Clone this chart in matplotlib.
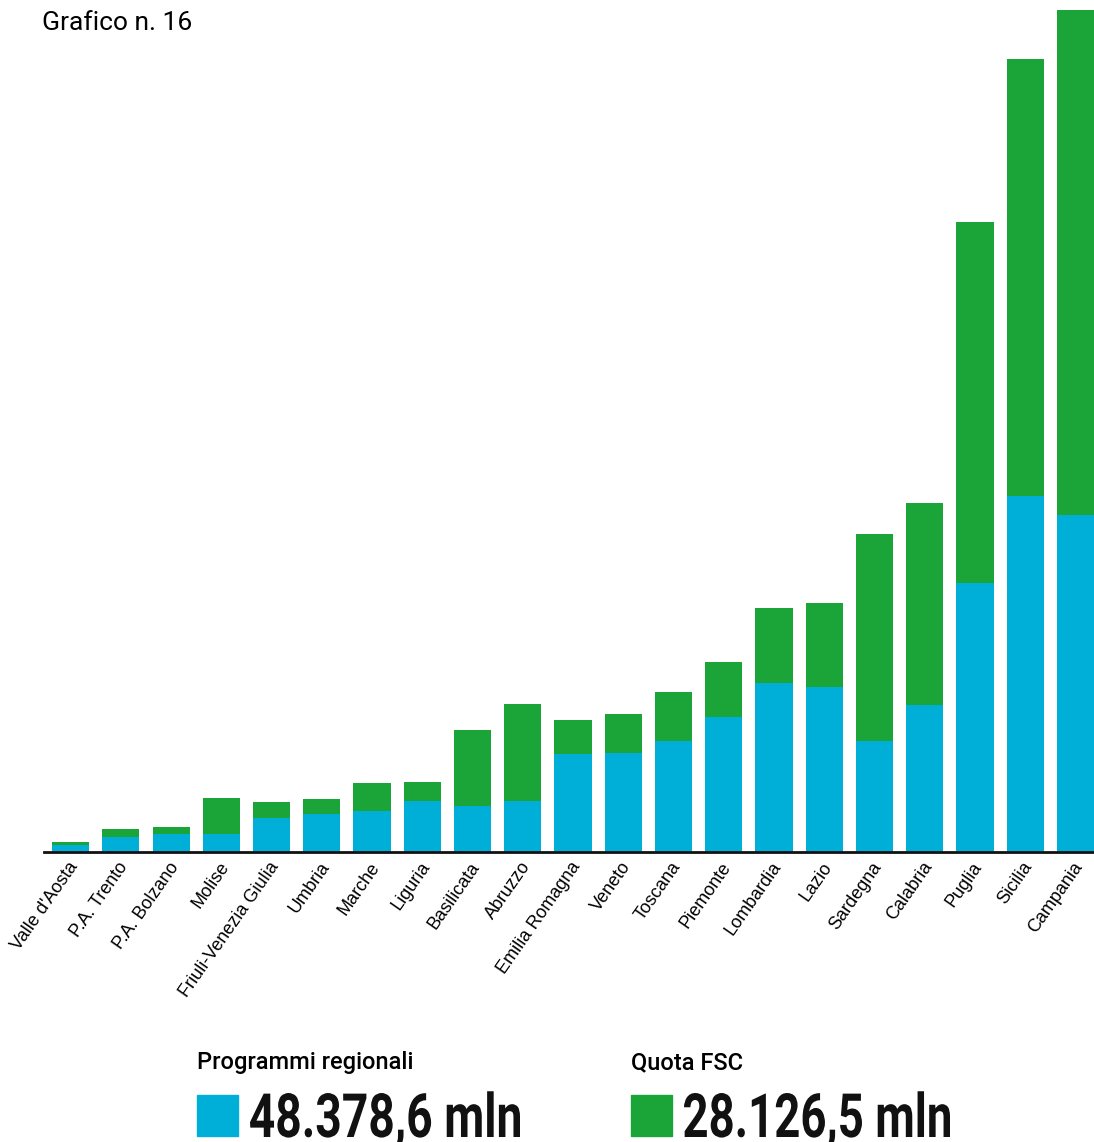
import matplotlib
matplotlib.use("Agg")
import matplotlib.pyplot as plt
from matplotlib.font_manager import FontProperties
from matplotlib.patches import Rectangle, PathPatch
from matplotlib.textpath import TextPath
from matplotlib.transforms import Affine2D, IdentityTransform, ScaledTranslation

# Dati (mln di euro)
regioni = ["Valle d'Aosta", "P.A. Trento", "P.A. Bolzano", "Molise",
           "Friuli-Venezia Giulia", "Umbria", "Marche", "Liguria",
           "Basilicata", "Abruzzo", "Emilia Romagna", "Veneto", "Toscana",
           "Piemonte", "Lombardia", "Lazio", "Sardegna", "Calabria",
           "Puglia", "Sicilia", "Campania"]
programmi_regionali = [146, 314, 376, 376, 711, 794, 857, 1066, 961, 1066,
                       2048, 2069, 2320, 2822, 3532, 3449, 2320, 3072,
                       5622, 7440, 7043]
quota_fsc = [63, 167, 146, 752, 334, 314, 585, 397, 1588, 2027,
             711, 815, 1024, 1150, 1568, 1756, 4326, 4222,
             7545, 9133, 10555]
totale_programmi = "48.378,6 mln"
totale_fsc = "28.126,5 mln"

BLU = "#00AFD8"
VERDE = "#1BA539"

W, H = 1094, 1142

fig = plt.figure(figsize=(W / 100, H / 100), dpi=100)
ax = fig.add_axes([44 / W, 1 - 852 / H, 1 - 44 / W, (852 - 10) / H])

x = range(len(regioni))
ax.bar(x, programmi_regionali, width=0.74, color=BLU, zorder=2)
ax.bar(x, quota_fsc, width=0.74, bottom=programmi_regionali, color=VERDE, zorder=2)

top = max(p + q for p, q in zip(programmi_regionali, quota_fsc))
ax.set_xlim(-0.53, len(regioni) - 1 + 0.37)
ax.set_ylim(0, top)

for s in ["top", "right", "left"]:
    ax.spines[s].set_visible(False)
ax.spines["bottom"].set_linewidth(2)
ax.spines["bottom"].set_color("#111111")
ax.spines["bottom"].set_zorder(3)
ax.set_yticks([])
ax.set_xticks(list(x))
ax.set_xticklabels(regioni, rotation=55, ha="right", va="top",
                   rotation_mode="anchor", family="Liberation Sans",
                   fontsize=13)
ax.tick_params(axis="x", length=0, pad=5)
shift = ScaledTranslation(-3 / 100, 0, fig.dpi_scale_trans)
for lab in ax.get_xticklabels():
    lab.set_transform(lab.get_transform() + shift)

fig.text(42 / W, 1 - 23 / H, "Grafico n. 16", family="Roboto",
         fontsize=19, va="center", ha="left")


def condensed_text(s, x0, y_base, width, cap_h):
    # testo bold "stretto" come nel grafico originale
    fp = FontProperties(family="Roboto", weight="bold")
    tp = TextPath((0, 0), s, size=100, prop=fp)
    ext = tp.get_extents()
    cap = TextPath((0, 0), "8", size=100, prop=fp).get_extents().y1
    sx = width / ext.width
    sy = cap_h / cap
    tr = Affine2D().translate(-ext.x0, 0).scale(sx, sy).translate(x0, H - y_base)
    fig.add_artist(PathPatch(tp, transform=tr + IdentityTransform(),
                             color="#111111", lw=0))


# Legenda in basso
for lx, label, val, col, wid in [(197, "Programmi regionali", totale_programmi, BLU, 270),
                                 (631, "Quota FSC", totale_fsc, VERDE, 266)]:
    fig.text(lx / W, 1 - 1063 / H, label, family="Roboto", weight="medium",
             fontsize=17, va="center", ha="left")
    fig.add_artist(Rectangle((lx / W, 1 - 1136 / H), 41 / W, 41 / H,
                             transform=fig.transFigure, color=col))
    condensed_text(val, lx + 53, 1137, wid, 44)

fig.savefig("out.png", dpi=100)
